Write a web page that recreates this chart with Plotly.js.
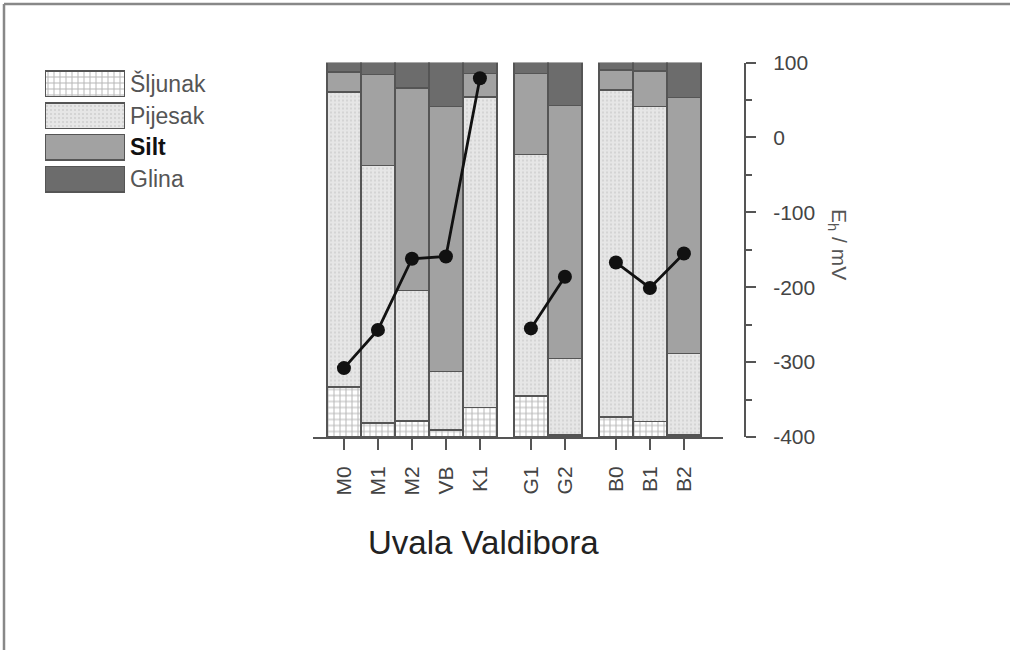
<!DOCTYPE html>
<html>
<head>
<meta charset="utf-8">
<script src="https://cdn.plot.ly/plotly-3.0.1.min.js"></script>
<style>html,body{margin:0;padding:0;background:#fff;}#chart{width:1010px;height:650px;}</style>
</head>
<body>
<div id="chart"></div>
<script>
// ---- data ----
var groups = [["M0","M1","M2","VB","K1"],["G1","G2"],["B0","B1","B2"]];
var categories = ["M0","M1","M2","VB","K1","G1","G2","B0","B1","B2"];
var sljunak = [13.4, 3.7, 4.3, 1.9, 7.9, 10.9, 0.5, 5.4, 4.1, 0.5];
var pijesak = [78.7, 68.8, 34.8, 15.6, 82.9, 64.5, 20.4, 87.3, 84.2, 21.8];
var silt    = [5.3, 24.3, 54.1, 70.8, 6.2, 21.6, 67.6, 5.3, 9.4, 68.3];
var glina   = [2.6, 3.2, 6.8, 11.7, 3.0, 3.0, 11.5, 2.0, 2.3, 9.4];
var eh      = [-308, -257, -162, -159, 79, -255, -186, -167, -201, -155];
var seriesNames = ["Šljunak","Pijesak","Silt","Glina"];
var ehTicks = [-400,-300,-200,-100,0,100];
var ehTickText = ["-400","-300","-200","-100","0","100"];
var xTitle = "Uvala Valdibora";
var yTitle = "E<sub>h</sub> / mV";

// ---- positions from group structure ----
var GAP = 0.5;
var xpos = [], lineX = [], lineY = [];
var pos = 0, idx = 0;
groups.forEach(function(g, gi){
  if (gi > 0) { lineX.push(pos - 1 + GAP/2 + 0.5); lineY.push(null); }
  g.forEach(function(){ xpos.push(pos); lineX.push(pos); lineY.push(eh[idx]); pos += 1; idx++; });
  pos += GAP;
});

var FONT = "Liberation Sans, Arial, sans-serif";
var OUT = {color:"#555", width:1.5};
var styles = [
  {color:"#ffffff", pattern:{shape:"+", fgcolor:"#b5b5b5", bgcolor:"#ffffff", size:6, solidity:0.3}},
  {color:"#e4e4e4", pattern:{shape:".", fgcolor:"#cfcfcf", bgcolor:"#e6e6e6", size:4, solidity:0.2}},
  {color:"#a2a2a2"},
  {color:"#6c6c6c"}
];
var seriesVals = [sljunak, pijesak, silt, glina];

var traces = [];
seriesVals.forEach(function(v, i){
  var m = {color: styles[i].color, line: OUT};
  if (styles[i].pattern) m.pattern = styles[i].pattern;
  traces.push({type:"bar", x:xpos, y:v, name:seriesNames[i], width:1, marker:m,
               xaxis:"x", yaxis:"y", showlegend:false, hoverinfo:"name+y"});
});
traces.push({type:"scatter", mode:"lines+markers", x:lineX, y:lineY, connectgaps:false,
  line:{color:"#111", width:2.8}, marker:{color:"#111", size:14},
  xaxis:"x", yaxis:"y2", showlegend:false, name:"Eh"});

// legend swatches (bars in a small helper axis)
seriesNames.forEach(function(n, i){
  var m = {color: styles[i].color, line: OUT};
  if (styles[i].pattern) m.pattern = styles[i].pattern;
  traces.push({type:"bar", orientation:"h", x:[1], y:[i], width:0.8, marker:m,
               xaxis:"x3", yaxis:"y3", showlegend:false, hoverinfo:"skip"});
});

var annotations = [];
seriesNames.forEach(function(n, i){
  annotations.push({xref:"x3", yref:"y3", x:1, y:i, xanchor:"left", yanchor:"middle", xshift:3,
    text: n === "Silt" ? "<b>"+n+"</b>" : n, showarrow:false,
    font:{family:FONT, size:23, color: n === "Silt" ? "#111" : "#555"}});
});
annotations.push({xref:"paper", yref:"paper", x:483/1010, y:1-542/650, xanchor:"center", yanchor:"middle",
  text:xTitle, showarrow:false, font:{family:FONT, size:33, color:"#222"}});
annotations.push({xref:"paper", yref:"paper", x:838/1010, y:1-244/650, xanchor:"center", yanchor:"middle",
  text:yTitle, textangle:90, showarrow:false, font:{family:FONT, size:21, color:"#555"}});

var layout = {
  width:1010, height:650, margin:{l:0,r:0,t:0,b:0},
  paper_bgcolor:"#fff", plot_bgcolor:"rgba(0,0,0,0)",
  barmode:"stack", bargap:0, showlegend:false,
  font:{family:FONT, color:"#444"},
  xaxis:{domain:[313/1010, 723/1010], range:[-0.91, 11.15], tickvals:xpos, ticktext:categories,
    tickangle:-90, showline:true, linecolor:"#555", linewidth:2, ticks:"outside", ticklen:11,
    tickwidth:2, tickcolor:"#555", ticklabelstandoff:8, showgrid:false, zeroline:false,
    tickfont:{family:FONT, size:21, color:"#444"}, anchor:"y"},
  yaxis:{domain:[1-437/650, 1-62.5/650], range:[0,100], visible:false, showgrid:false, zeroline:false},
  yaxis2:{overlaying:"y", side:"right", anchor:"free", position:745/1010, range:[-400,100],
    tickvals:ehTicks, ticktext:ehTickText, showline:true, linecolor:"#555", linewidth:2, ticks:"outside", ticklen:10,
    tickwidth:2, tickcolor:"#555", showgrid:false, zeroline:false, ticklabelstandoff:13,
    minor:{dtick:50, ticks:"outside", ticklen:6, tickwidth:2, tickcolor:"#555"},
    tickfont:{family:FONT, size:21, color:"#444"}},
  xaxis3:{domain:[45/1010, 125/1010], range:[0,1], visible:false, anchor:"y3", fixedrange:true},
  yaxis3:{domain:[1-195/650, 1-68/650], range:[3.5,-0.5], visible:false, anchor:"x3", fixedrange:true},
  annotations:annotations,
  shapes:[
    {type:"line", xref:"paper", yref:"paper", x0:4/1010, x1:1, y0:1-4/650, y1:1-4/650, line:{color:"#888", width:2.5}},
    {type:"line", xref:"paper", yref:"paper", x0:4/1010, x1:4/1010, y0:1-4/650, y1:0, line:{color:"#888", width:2.5}}
  ]
};

Plotly.newPlot("chart", traces, layout, {displayModeBar:false, staticPlot:true});
</script>
</body>
</html>
